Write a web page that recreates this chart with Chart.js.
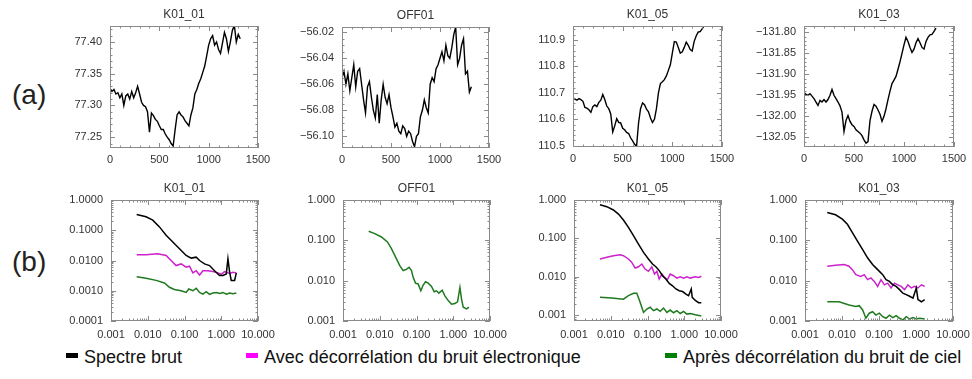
<!DOCTYPE html>
<html>
<head>
<meta charset="utf-8">
<script src="https://cdn.jsdelivr.net/npm/chart.js@4.4.0/dist/chart.umd.min.js"></script>
<style>
  body { margin: 0; background: #fff; }
  #page { position: relative; width: 972px; height: 379px; overflow: hidden; background: #fff;
          font-family: "Liberation Sans", Arial, sans-serif; }
  #page canvas { position: absolute; }
  .rowLabel { position: absolute; left: 12px; font-size: 28px; color: #222; line-height: 30px; }
  .key { position: absolute; top: 346px; font-size: 18px; color: #111; line-height: 22px; white-space: nowrap; }
  .key span { display: inline-block; width: 12px; height: 5px; margin-right: 6px; vertical-align: 5px; }
</style>
</head>
<body>
<div id="page">
  <div class="rowLabel" style="top:80px">(a)</div>
  <div class="rowLabel" style="top:247px">(b)</div>
  <canvas id="a1"></canvas><canvas id="a2"></canvas><canvas id="a3"></canvas><canvas id="a4"></canvas>
  <canvas id="b1"></canvas><canvas id="b2"></canvas><canvas id="b3"></canvas><canvas id="b4"></canvas>
  <div class="key" style="left:66px"><span style="background:#000"></span>Spectre brut</div>
  <div class="key" style="left:246px"><span style="background:#ff00ff"></span>Avec décorrélation du bruit électronique</div>
  <div class="key" style="left:665px"><span style="background:#008000"></span>Après décorrélation du bruit de ciel</div>
</div>
<script>
"use strict";
// ---- data ----
const titles = ['K01_01', 'OFF01', 'K01_05', 'K01_03'];

// row (a): time samples
const timeSamples = [0, 20, 40, 60, 80, 100, 120, 140, 160, 180, 200, 220, 240, 260, 280, 300, 320, 340,
    360, 380, 400, 420, 440, 460, 480, 500, 520, 540, 560, 580, 600, 620, 640, 660, 680, 700, 720,
    740, 760, 780, 800, 820, 840, 860, 880, 900, 920, 940, 960, 980, 1000, 1020, 1040, 1060, 1080,
    1100, 1120, 1140, 1160, 1180, 1200, 1220, 1240, 1260, 1280, 1300, 1320];
const timeLabels = ['0', '500', '1000', '1500'];

const k0101Signal = [77.327, 77.322, 77.325, 77.318, 77.320, 77.312, 77.318, 77.300, 77.315, 77.318,
    77.310, 77.322, 77.312, 77.320, 77.330, 77.318, 77.305, 77.300, 77.298, 77.290,
    77.258, 77.288, 77.284, 77.278, 77.275, 77.268, 77.262, 77.262, 77.255, 77.250,
    77.246, 77.240, 77.236, 77.262, 77.285, 77.290, 77.285, 77.282, 77.276, 77.272,
    77.268, 77.285, 77.296, 77.318, 77.325, 77.335, 77.342, 77.352, 77.362, 77.378,
    77.395, 77.405, 77.410, 77.395, 77.400, 77.388, 77.382, 77.398, 77.415, 77.405,
    77.385, 77.400, 77.418, 77.426, 77.400, 77.412, 77.405];
const off01Signal = [-56.055, -56.050, -56.060, -56.052, -56.065, -56.055, -56.045, -56.062, -56.050, -56.048,
    -56.060, -56.072, -56.082, -56.062, -56.058, -56.070, -56.080, -56.086, -56.068, -56.090,
    -56.072, -56.060, -56.070, -56.075, -56.068, -56.078, -56.085, -56.093, -56.090, -56.096,
    -56.098, -56.092, -56.094, -56.100, -56.096, -56.098, -56.104, -56.108, -56.100, -56.098,
    -56.085, -56.080, -56.072, -56.078, -56.082, -56.060, -56.055, -56.058, -56.048, -56.045,
    -56.040, -56.035, -56.042, -56.030, -56.038, -56.040, -56.032, -56.022, -56.016, -56.045,
    -56.040, -56.030, -56.025, -56.052, -56.050, -56.066, -56.062];
const k0105Signal = [110.682, 110.676, 110.672, 110.678, 110.674, 110.668, 110.645, 110.642, 110.636, 110.626,
    110.648, 110.654, 110.648, 110.664, 110.672, 110.694, 110.675, 110.650, 110.640, 110.620,
    110.552, 110.575, 110.602, 110.588, 110.586, 110.566, 110.560, 110.550, 110.546, 110.530,
    110.518, 110.505, 110.498, 110.586, 110.640, 110.662, 110.655, 110.638, 110.628, 110.605,
    110.588, 110.600, 110.640, 110.700, 110.735, 110.742, 110.750, 110.764, 110.785, 110.806,
    110.850, 110.894, 110.892, 110.872, 110.850, 110.855, 110.872, 110.892, 110.880, 110.864,
    110.858, 110.895, 110.915, 110.930, 110.932, 110.942, 110.954];
const k0103Signal = [-131.943, -131.948, -131.950, -131.946, -131.952, -131.958, -131.966, -131.974, -131.962, -131.966,
    -131.960, -131.966, -131.960, -131.950, -131.936, -131.950, -131.958, -131.966, -131.975, -131.990,
    -132.036, -132.010, -131.998, -132.012, -132.020, -132.024, -132.032, -132.036, -132.040, -132.046,
    -132.056, -132.064, -132.060, -132.010, -131.988, -131.972, -131.976, -131.985, -131.995, -132.012,
    -132.000, -131.982, -131.960, -131.940, -131.922, -131.914, -131.905, -131.888, -131.870, -131.850,
    -131.830, -131.812, -131.822, -131.836, -131.848, -131.840, -131.825, -131.815, -131.825, -131.836,
    -131.840, -131.822, -131.812, -131.806, -131.805, -131.798, -131.790];

const k0101Range = [77.233, 77.425];
const off01Range = [-56.109, -56.016];
const k0105Range = [110.495, 110.953];
const k0103Range = [-132.073, -131.785];
const k0101Labels = ['77.25', '77.30', '77.35', '77.40'];
const off01Labels = ['−56.10', '−56.08', '−56.06', '−56.04', '−56.02'];
const k0105Labels = ['110.5', '110.6', '110.7', '110.8', '110.9'];
const k0103Labels = ['−132.05', '−132.00', '−131.95', '−131.90', '−131.85', '−131.80'];

// row (b): spectra, [frequency, power]
const freqLabels = ['0.001', '0.010', '0.100', '1.000', '10.000'];
const powerLabels4 = ['0.0001', '0.0010', '0.0100', '0.1000', '1.0000'];
const powerLabels3 = ['0.001', '0.010', '0.100', '1.000'];

const k0101Raw = [[0.0050, 0.333], [0.0090, 0.278], [0.0137, 0.215], [0.0208, 0.129], [0.0316, 0.068],
    [0.048, 0.041], [0.073, 0.0245], [0.111, 0.0147], [0.152, 0.012], [0.208, 0.0129], [0.257, 0.010],
    [0.351, 0.0077], [0.48, 0.0068], [0.658, 0.0046], [0.90, 0.0032], [1.11, 0.0032], [1.37, 0.0036],
    [1.52, 0.0114], [1.69, 0.0041], [1.87, 0.0022], [2.31, 0.0022], [2.57, 0.0039]];
const k0101Elec = [[0.0050, 0.0155], [0.0090, 0.0155], [0.0187, 0.0167], [0.0316, 0.0147], [0.0433, 0.010],
    [0.059, 0.0068], [0.081, 0.0077], [0.111, 0.006], [0.137, 0.0065], [0.169, 0.0039], [0.208, 0.0046],
    [0.257, 0.0033], [0.316, 0.0046], [0.433, 0.0046], [0.593, 0.0043], [0.81, 0.0039], [1.0, 0.0035],
    [1.23, 0.0043], [1.69, 0.0037], [2.08, 0.0041], [2.57, 0.0039]];
const k0101Sky = [[0.0050, 0.0029], [0.0090, 0.0026], [0.0169, 0.0022], [0.0285, 0.0018], [0.039, 0.0013],
    [0.053, 0.0011], [0.081, 0.0010], [0.111, 0.00088], [0.131, 0.00114], [0.169, 0.0010], [0.208, 0.0012],
    [0.257, 0.00088], [0.316, 0.00077], [0.39, 0.00093], [0.48, 0.00076], [0.593, 0.00084], [0.73, 0.00088],
    [0.90, 0.00082], [1.11, 0.00088], [1.37, 0.00077], [1.69, 0.00084], [2.08, 0.0008], [2.57, 0.00084]];

const off01Sky = [[0.0050, 0.168], [0.0073, 0.147], [0.0111, 0.121], [0.0162, 0.091], [0.0208, 0.062],
    [0.0285, 0.0348], [0.0351, 0.0237], [0.0433, 0.0178], [0.053, 0.019], [0.063, 0.0215], [0.073, 0.0178],
    [0.081, 0.0121], [0.094, 0.0087], [0.111, 0.0083], [0.131, 0.0056], [0.152, 0.0078], [0.176, 0.0094],
    [0.208, 0.0087], [0.256, 0.0072], [0.303, 0.0053], [0.351, 0.0056], [0.406, 0.0049], [0.50, 0.0058],
    [0.593, 0.0042], [0.73, 0.0032], [0.90, 0.0026], [1.11, 0.0027], [1.31, 0.003], [1.52, 0.0068],
    [1.69, 0.0034], [1.87, 0.0022], [2.31, 0.002], [2.67, 0.0022]];

const k0105Raw = [[0.0051, 0.755], [0.0078, 0.67], [0.0118, 0.55], [0.0162, 0.43], [0.0221, 0.30],
    [0.0303, 0.194], [0.0415, 0.117], [0.0568, 0.071], [0.078, 0.043], [0.106, 0.029], [0.137, 0.0214],
    [0.169, 0.0182], [0.208, 0.0144], [0.256, 0.0106], [0.316, 0.0087], [0.39, 0.0067], [0.48, 0.0058],
    [0.593, 0.0048], [0.73, 0.0043], [0.90, 0.0041], [1.11, 0.0035], [1.31, 0.0032], [1.55, 0.0048],
    [1.65, 0.0029], [2.0, 0.0024], [2.46, 0.0021], [2.91, 0.0021]];
const k0105Elec = [[0.0051, 0.029], [0.0078, 0.032], [0.0118, 0.0353], [0.018, 0.0375], [0.0221, 0.0353],
    [0.0303, 0.029], [0.0374, 0.0236], [0.046, 0.0168], [0.0568, 0.0182], [0.070, 0.0214], [0.086, 0.0158],
    [0.106, 0.0138], [0.131, 0.0182], [0.155, 0.0117], [0.18, 0.0138], [0.208, 0.0087], [0.246, 0.0117],
    [0.291, 0.0096], [0.344, 0.0082], [0.415, 0.0117], [0.512, 0.0106], [0.631, 0.0092], [0.778, 0.010],
    [0.96, 0.0092], [1.18, 0.010], [1.46, 0.0092], [2.0, 0.010], [2.46, 0.0096], [2.91, 0.0103]];
const k0105Sky = [[0.0051, 0.0029], [0.0106, 0.0028], [0.0221, 0.0026], [0.0303, 0.0032], [0.0415, 0.0037],
    [0.051, 0.0037], [0.059, 0.0026], [0.070, 0.0016], [0.078, 0.00117], [0.096, 0.00144], [0.118, 0.0016],
    [0.146, 0.0013], [0.18, 0.00144], [0.221, 0.00125], [0.273, 0.00152], [0.337, 0.00117], [0.415, 0.00135],
    [0.512, 0.00115], [0.631, 0.0013], [0.778, 0.0011], [0.96, 0.00125], [1.18, 0.00106], [1.46, 0.0011],
    [2.0, 0.00102], [2.46, 0.00098], [2.91, 0.00094]];

const k0103Raw = [[0.0040, 0.49], [0.0067, 0.43], [0.0102, 0.335], [0.014, 0.25], [0.0191, 0.155],
    [0.0262, 0.096], [0.0359, 0.0596], [0.049, 0.0369], [0.067, 0.0251], [0.092, 0.0188], [0.126, 0.0141],
    [0.155, 0.0106], [0.191, 0.0096], [0.236, 0.0079], [0.291, 0.0072], [0.359, 0.006], [0.442, 0.0049],
    [0.545, 0.0045], [0.672, 0.0041], [0.828, 0.0037], [1.02, 0.0066], [1.13, 0.0034], [1.40, 0.003],
    [1.72, 0.0034]];
const k0103Elec = [[0.0040, 0.0228], [0.0067, 0.0242], [0.0113, 0.0251], [0.0155, 0.0228], [0.0191, 0.0188],
    [0.0236, 0.0141], [0.0323, 0.0128], [0.0398, 0.0141], [0.049, 0.0106], [0.0605, 0.0117], [0.0746, 0.0096],
    [0.092, 0.0072], [0.113, 0.0106], [0.14, 0.0079], [0.172, 0.0087], [0.212, 0.0066], [0.262, 0.0087],
    [0.323, 0.0079], [0.398, 0.0072], [0.491, 0.006], [0.605, 0.0079], [0.746, 0.0066], [0.92, 0.0072],
    [1.13, 0.0066], [1.40, 0.0079], [1.72, 0.0072]];
const k0103Sky = [[0.0040, 0.003], [0.0083, 0.003], [0.0155, 0.0025], [0.0236, 0.0023], [0.0291, 0.0024],
    [0.0359, 0.0019], [0.0442, 0.00117], [0.0545, 0.00156], [0.067, 0.0017], [0.0828, 0.0014], [0.102, 0.00156],
    [0.126, 0.00128], [0.155, 0.00117], [0.191, 0.0014], [0.236, 0.00121], [0.291, 0.00136], [0.359, 0.00117],
    [0.442, 0.00106], [0.545, 0.00128], [0.672, 0.00112], [0.828, 0.00121], [1.02, 0.00112], [1.26, 0.00117],
    [1.72, 0.00112]];

// ---- drawing ----
const RAW = '#000000', ELEC = '#cc22cc', SKY = '#1f7a1f';
const ML = 70, MR = 24, MT = 24, MB = 24;

Chart.defaults.font.family = '"Liberation Sans", Arial, sans-serif';

const toNum = label => parseFloat(label.replace('\u2212', '-'));

// IDL-like frame: box on four sides with inward major/minor ticks
const framePlugin = {
    id: 'frame',
    afterDatasetsDraw(chart, args, opts) {
        const ctx = chart.ctx;
        const a = chart.chartArea;
        ctx.save();
        ctx.strokeStyle = '#8a8a8a';
        ctx.lineWidth = 1;
        ctx.strokeRect(Math.round(a.left) + 0.5, Math.round(a.top) + 0.5, Math.round(a.width) - 1, Math.round(a.height) - 1);
        ['x', 'y'].forEach(id => {
            const s = chart.scales[id];
            tickMarks(s, opts[id + 'Minor']).forEach(m => {
                const p = Math.round(s.getPixelForValue(m.v)) + 0.5;
                const len = m.major ? 5 : 2.5;
                ctx.beginPath();
                if (id === 'x') {
                    ctx.moveTo(p, a.bottom); ctx.lineTo(p, a.bottom - len);
                    ctx.moveTo(p, a.top); ctx.lineTo(p, a.top + len);
                } else {
                    ctx.moveTo(a.left, p); ctx.lineTo(a.left + len, p);
                    ctx.moveTo(a.right, p); ctx.lineTo(a.right - len, p);
                }
                ctx.stroke();
            });
        });
        ctx.restore();
    }
};

function tickMarks(s, minorStep) {
    const marks = s.ticks.map(t => ({v: t.value, major: true}));
    if (s.type === 'logarithmic') {
        s.ticks.forEach(t => {
            for (let k = 2; k <= 9; k++) {
                const v = t.value * k;
                if (v > s.min && v < s.max) marks.push({v: v, major: false});
            }
            for (let k = 2; k <= 9; k++) {
                const v = t.value / 10 * k;
                if (v > s.min && v < s.max && v < s.ticks[0].value) marks.push({v: v, major: false});
            }
        });
    } else {
        for (let k = Math.ceil(s.min / minorStep); k * minorStep < s.max; k++) {
            marks.push({v: k * minorStep, major: false});
        }
    }
    return marks;
}

function makePanel(canvasId, box, cfg) {
    const cv = document.getElementById(canvasId);
    cv.width = box.w + ML + MR;
    cv.height = box.h + MT + MB;
    cv.style.left = (box.l - ML) + 'px';
    cv.style.top = (box.t - MT) + 'px';
    const fixTicks = labels => scale => { scale.ticks = labels.map(l => ({value: toNum(l)})); };
    return new Chart(cv, {
        type: 'line',
        data: {
            datasets: cfg.series.map(s => ({
                data: s.points,
                borderColor: s.color,
                borderWidth: s.width,
                pointRadius: 0,
                tension: 0,
                fill: false
            }))
        },
        options: {
            responsive: false,
            animation: false,
            devicePixelRatio: 1,
            layout: { padding: { left: 0, right: MR, top: 0, bottom: 0 } },
            plugins: {
                legend: { display: false },
                tooltip: { enabled: false },
                title: {
                    display: true, text: cfg.title, fullSize: false, color: '#333',
                    font: { size: 12, weight: 'normal', lineHeight: 1.2 },
                    padding: { top: 5, bottom: 4.6 }
                },
                frame: { xMinor: cfg.xMinor, yMinor: cfg.yMinor }
            },
            scales: {
                x: {
                    type: cfg.xType, min: cfg.xRange[0], max: cfg.xRange[1],
                    afterFit: s => { s.height = MB; },
                    afterBuildTicks: fixTicks(cfg.xLabels),
                    grid: { display: false, drawTicks: false },
                    border: { display: false },
                    ticks: {
                        padding: cfg.xPad, color: '#333', font: { size: 11 },
                        maxRotation: 0, autoSkip: false,
                        callback: (v, i) => cfg.xLabels[i]
                    }
                },
                y: {
                    type: cfg.yType, min: cfg.yRange[0], max: cfg.yRange[1],
                    afterFit: s => { s.width = ML; },
                    afterBuildTicks: fixTicks(cfg.yLabels),
                    grid: { display: false, drawTicks: false },
                    border: { display: false },
                    ticks: {
                        padding: cfg.yPad, color: '#333', font: { size: 11 },
                        autoSkip: false,
                        callback: (v, i) => cfg.yLabels[i]
                    }
                }
            }
        },
        plugins: [framePlugin]
    });
}

const asPoints = values => values.map((v, i) => ({x: timeSamples[i], y: v}));
const asPairs = pairs => pairs.map(p => ({x: p[0], y: p[1]}));

function timePanel(canvasId, box, idx, values, range, labels, minor) {
    makePanel(canvasId, box, {
        title: titles[idx], xType: 'linear', yType: 'linear',
        xRange: [0, 1500], yRange: range, xLabels: timeLabels, yLabels: labels,
        xMinor: 100, yMinor: minor, xPad: 5, yPad: 8,
        series: [{points: asPoints(values), color: RAW, width: 1.4}]
    });
}

function spectrumPanel(canvasId, box, idx, yRange, yLabels, series) {
    makePanel(canvasId, box, {
        title: titles[idx], xType: 'logarithmic', yType: 'logarithmic',
        xRange: [0.001, 10], yRange: yRange, xLabels: freqLabels, yLabels: yLabels,
        xPad: 7, yPad: 8,
        series: series
    });
}

timePanel('a1', {l: 110, t: 26, w: 148, h: 122}, 0, k0101Signal, k0101Range, k0101Labels, 0.01);
timePanel('a2', {l: 342, t: 27, w: 147, h: 121}, 1, off01Signal, off01Range, off01Labels, 0.005);
timePanel('a3', {l: 573, t: 26, w: 149, h: 121}, 2, k0105Signal, k0105Range, k0105Labels, 0.02);
timePanel('a4', {l: 804, t: 26, w: 150, h: 121}, 3, k0103Signal, k0103Range, k0103Labels, 0.01);

spectrumPanel('b1', {l: 111, t: 200, w: 147, h: 121}, 0, [0.0001, 1], powerLabels4, [
    {points: asPairs(k0101Raw), color: RAW, width: 1.5},
    {points: asPairs(k0101Elec), color: ELEC, width: 1.5},
    {points: asPairs(k0101Sky), color: SKY, width: 1.5}
]);
spectrumPanel('b2', {l: 343, t: 200, w: 147, h: 121}, 1, [0.001, 1], powerLabels3, [
    {points: asPairs(off01Sky), color: SKY, width: 1.5}
]);
spectrumPanel('b3', {l: 574, t: 200, w: 147, h: 121}, 2, [0.0007, 1], powerLabels3, [
    {points: asPairs(k0105Raw), color: RAW, width: 1.5},
    {points: asPairs(k0105Elec), color: ELEC, width: 1.5},
    {points: asPairs(k0105Sky), color: SKY, width: 1.5}
]);
spectrumPanel('b4', {l: 805, t: 200, w: 148, h: 121}, 3, [0.001, 1], powerLabels3, [
    {points: asPairs(k0103Raw), color: RAW, width: 1.5},
    {points: asPairs(k0103Elec), color: ELEC, width: 1.5},
    {points: asPairs(k0103Sky), color: SKY, width: 1.5}
]);
</script>
</body>
</html>
